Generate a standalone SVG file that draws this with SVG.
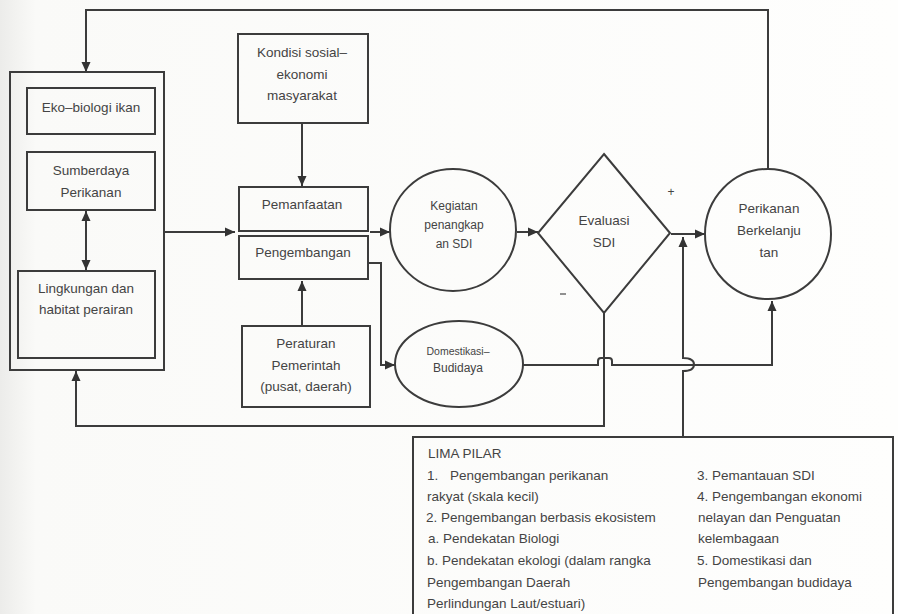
<svg xmlns="http://www.w3.org/2000/svg" width="898" height="614" viewBox="0 0 898 614">
  <defs>
    <linearGradient id="bg" x1="0" y1="0" x2="1" y2="0">
      <stop offset="0" stop-color="#ececea"/>
      <stop offset="0.04" stop-color="#fafaf8"/>
      <stop offset="1" stop-color="#fefefd"/>
    </linearGradient>
    <marker id="arr" viewBox="0 0 10 10" refX="10" refY="5" markerWidth="10" markerHeight="10" markerUnits="userSpaceOnUse" orient="auto">
      <path d="M0,0.5 L10,5 L0,9.5 Z" fill="#333"/>
    </marker>
    <marker id="arrS" viewBox="0 0 10 10" refX="10" refY="5" markerWidth="10" markerHeight="10" markerUnits="userSpaceOnUse" orient="auto-start-reverse">
      <path d="M0,0.5 L10,5 L0,9.5 Z" fill="#333"/>
    </marker>
  </defs>
  <style>
    .box { fill: none; stroke: #3c3c3c; stroke-width: 2; }
    .shape { fill: none; stroke: #3c3c3c; stroke-width: 2; }
    .ln { fill: none; stroke: #3c3c3c; stroke-width: 2; }
    text { font-family: "Liberation Sans", Arial, sans-serif; fill: #444; }
    .t { font-size: 13.5px; text-anchor: middle; }
    .s { font-size: 12px; text-anchor: middle; }
    .xs { font-size: 10.5px; text-anchor: middle; }
    .l { font-size: 13.5px; }
  </style>
  <rect x="0" y="0" width="898" height="614" fill="url(#bg)"/>

  <g id="connectors">
    <path class="ln" d="M768,168 V10 H86 V72" marker-end="url(#arr)"/>
    <path class="ln" d="M86,211 V270" marker-start="url(#arrS)" marker-end="url(#arr)"/>
    <path class="ln" d="M164,232 H235" marker-end="url(#arr)"/>
    <path class="ln" d="M302,123 V186" marker-end="url(#arr)"/>
    <path class="ln" d="M302,326 V281" marker-end="url(#arr)"/>
    <path class="ln" d="M370,232 H390" marker-end="url(#arr)"/>
    <path class="ln" d="M517,232 H538" marker-end="url(#arr)"/>
    <path class="ln" d="M671,234 H705" marker-end="url(#arr)"/>
    <path class="ln" d="M368,263 H381 V365 H395" marker-end="url(#arr)"/>
    <path class="ln" d="M523,365 H598 V361 Q598,358 601,358 H609 Q612,358 612,361 V365 H772 V301" marker-end="url(#arr)"/>
    <path class="ln" d="M604,313 V426 H76 V371" marker-end="url(#arr)"/>
    <path class="ln" d="M683,437 V371 C691,371 694,368 694,364.5 C694,361 691,358 683,358 V237" marker-end="url(#arr)"/>
    <text x="671" y="196" class="s" font-size="9">+</text>
    <path d="M560,294 H566" stroke="#555" stroke-width="1.3"/>
  </g>

  <g id="kelompok-sdi">
    <rect class="box" x="10" y="72" width="154" height="298"/>
  </g>
  <g id="eko-biologi">
    <rect class="box" x="27" y="88" width="128" height="46"/>
    <text class="t" x="91" y="112">Eko–biologi ikan</text>
  </g>
  <g id="sumberdaya">
    <rect class="box" x="27" y="152" width="128" height="58"/>
    <text class="t" x="91" y="175">Sumberdaya</text>
    <text class="t" x="91" y="197">Perikanan</text>
  </g>
  <g id="lingkungan">
    <rect class="box" x="18" y="271" width="137" height="87"/>
    <text class="t" x="86" y="293">Lingkungan dan</text>
    <text class="t" x="86" y="314">habitat perairan</text>
  </g>
  <g id="kondisi">
    <rect class="box" x="238" y="34" width="130" height="89"/>
    <text class="t" x="302" y="57">Kondisi sosial–</text>
    <text class="t" x="302" y="79">ekonomi</text>
    <text class="t" x="302" y="100">masyarakat</text>
  </g>
  <g id="pemanfaatan">
    <rect class="box" x="239" y="187" width="129" height="44"/>
    <text class="t" x="302" y="209">Pemanfaatan</text>
  </g>
  <g id="pengembangan">
    <rect class="box" x="239" y="236" width="129" height="43"/>
    <text class="t" x="303" y="257">Pengembangan</text>
  </g>
  <g id="peraturan">
    <rect class="box" x="242" y="326" width="128" height="81"/>
    <text class="t" x="306" y="348">Peraturan</text>
    <text class="t" x="306" y="370">Pemerintah</text>
    <text class="t" x="306" y="391">(pusat, daerah)</text>
  </g>
  <g id="kegiatan">
    <ellipse class="shape" cx="453" cy="230" rx="63" ry="61"/>
    <text class="s" x="454" y="210">Kegiatan</text>
    <text class="s" x="454" y="229">penangkap</text>
    <text class="s" x="454" y="248">an SDI</text>
  </g>
  <g id="evaluasi">
    <path class="shape" d="M604,154 L670,233 L604,313 L538,233 Z"/>
    <text class="t" x="604" y="225">Evaluasi</text>
    <text class="t" x="604" y="247">SDI</text>
  </g>
  <g id="perikanan">
    <ellipse class="shape" cx="768" cy="234" rx="63" ry="65"/>
    <text class="t" x="769" y="213">Perikanan</text>
    <text class="t" x="769" y="235">Berkelanju</text>
    <text class="t" x="769" y="257">tan</text>
  </g>
  <g id="domestikasi">
    <ellipse class="shape" cx="459" cy="364" rx="64" ry="43"/>
    <text class="xs" x="458" y="355">Domestikasi–</text>
    <text class="s" x="458" y="372">Budidaya</text>
  </g>
  <g id="lima-pilar">
    <rect class="box" x="413" y="437" width="480" height="190"/>
    <text class="l" x="428" y="458">LIMA PILAR</text>
    <text class="l" x="427" y="480">1.</text>
    <text class="l" x="450" y="480">Pengembangan perikanan</text>
    <text class="l" x="427" y="501">rakyat (skala kecil)</text>
    <text class="l" x="426" y="522">2. Pengembangan berbasis ekosistem</text>
    <text class="l" x="428" y="543">a. Pendekatan Biologi</text>
    <text class="l" x="427" y="565">b. Pendekatan ekologi (dalam rangka</text>
    <text class="l" x="427" y="587">Pengembangan Daerah</text>
    <text class="l" x="427" y="608">Perlindungan Laut/estuari)</text>
    <text class="l" x="697" y="480">3. Pemantauan SDI</text>
    <text class="l" x="697" y="501">4. Pengembangan ekonomi</text>
    <text class="l" x="698" y="522">nelayan dan Penguatan</text>
    <text class="l" x="698" y="543">kelembagaan</text>
    <text class="l" x="697" y="565">5. Domestikasi dan</text>
    <text class="l" x="698" y="587">Pengembangan budidaya</text>
  </g>
</svg>
